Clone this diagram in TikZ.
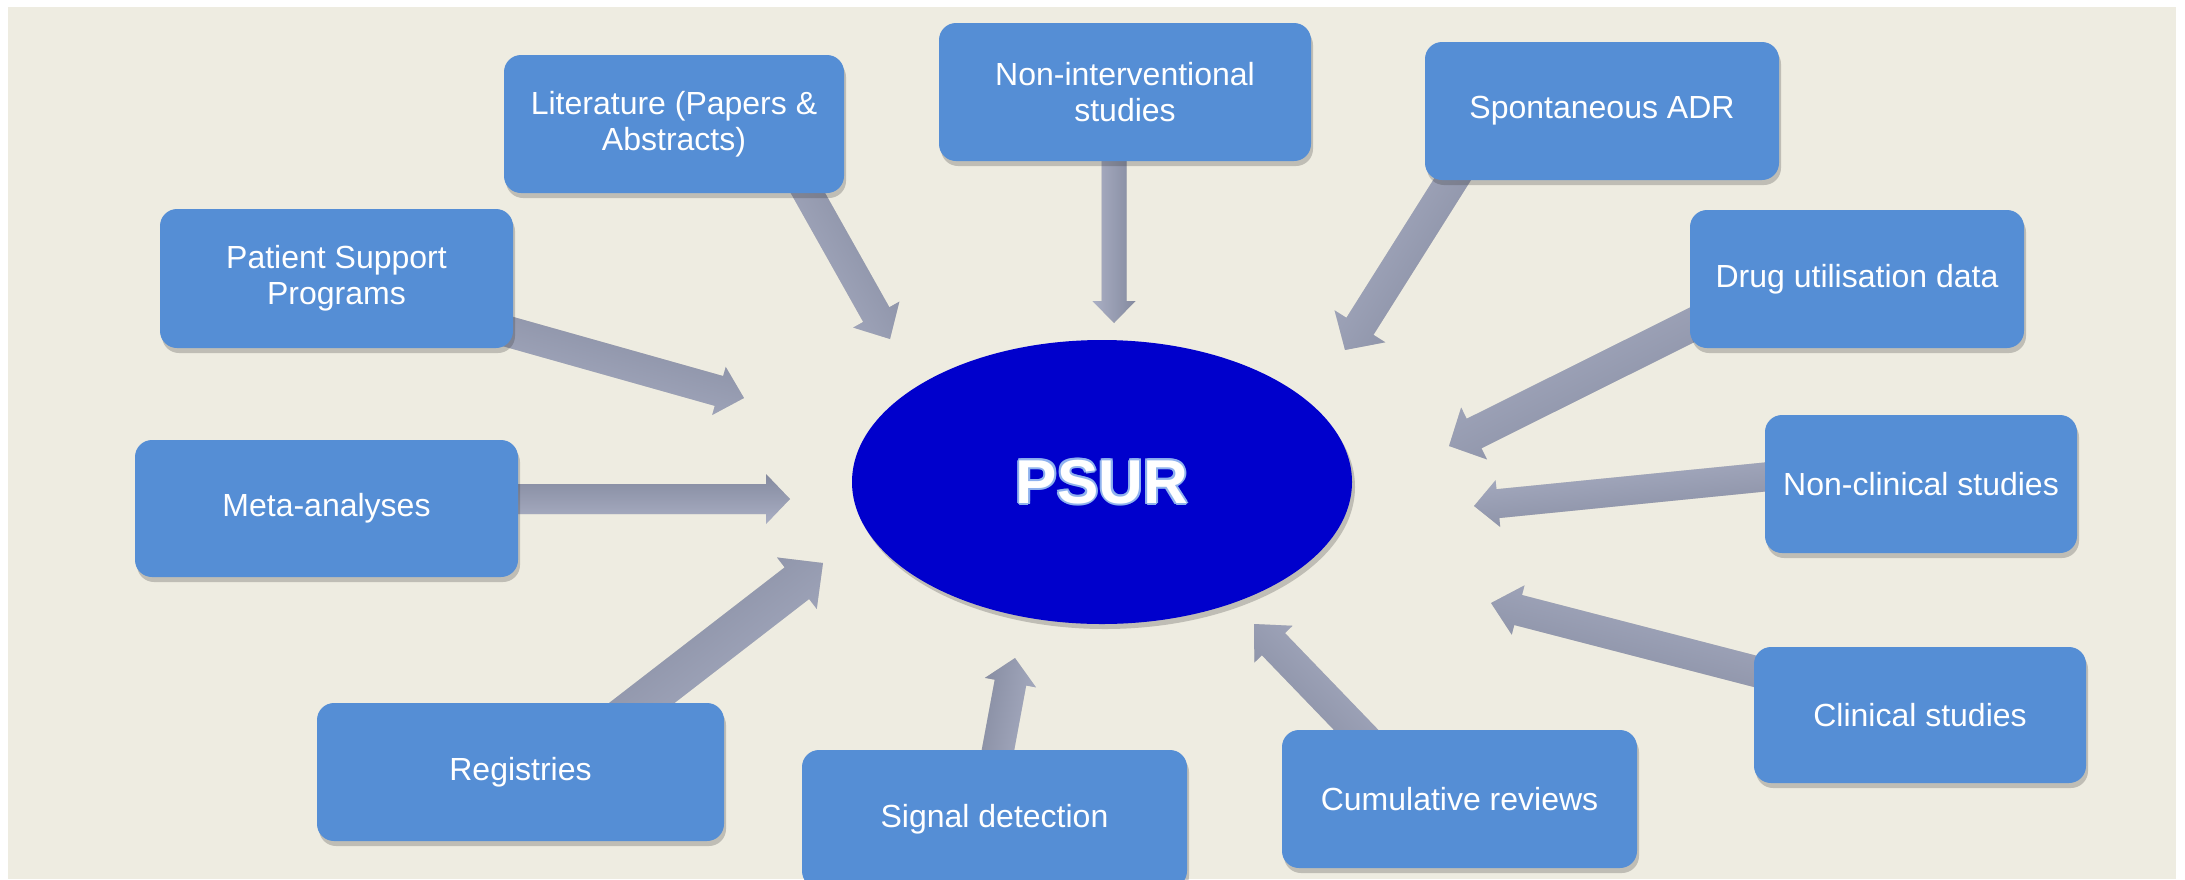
\documentclass[tikz,border=0pt]{standalone}
\usepackage{fontspec}
\setmainfont{Liberation Sans}
\usetikzlibrary{calc,shapes.geometric,shadows}
\definecolor{bgbeige}{HTML}{EEECE1}
\definecolor{boxblue}{HTML}{558ED5}
\definecolor{psurblue}{HTML}{0000CC}
\definecolor{arrdark}{HTML}{848A9F}
\definecolor{arrlight}{HTML}{AAAFC4}
\definecolor{glowblue}{HTML}{8FB2EE}
\pgfdeclarelayer{bglayer}
\pgfdeclarelayer{arrlayer}
\pgfsetlayers{bglayer,arrlayer,main}

% #1 start coordinate, #2 tip coordinate, #3 shaft width, #4 head width, #5 head length
\newcommand\blockarrow[5]{%
  \path let \p1=($(#2)-(#1)$) in \pgfextra{%
    \pgfmathsetmacro\tmpang{atan2(\y1,\x1)}%
    \pgfmathsetmacro\tmplen{veclen(\x1,\y1)}%
    \xdef\Arrang{\tmpang}\xdef\Arrlen{\tmplen}};
  \begin{scope}[xshift=3pt,yshift=-4pt]
    \begin{scope}[shift={(#1)},rotate=\Arrang]
      \fill[black,opacity=0.12] (-40,{-#3/2}) -- ({\Arrlen-#5},{-#3/2}) -- ({\Arrlen-#5},{-#4/2}) -- (\Arrlen,0) -- ({\Arrlen-#5},{#4/2}) -- ({\Arrlen-#5},{#3/2}) -- (-40,{#3/2}) -- cycle;
    \end{scope}
  \end{scope}
  \begin{scope}[shift={(#1)},rotate=\Arrang]
    \shade[top color=arrdark,bottom color=arrlight,shading angle=\Arrang] (-40,{-#3/2}) -- ({\Arrlen-#5},{-#3/2}) -- ({\Arrlen-#5},{-#4/2}) -- (\Arrlen,0) -- ({\Arrlen-#5},{#4/2}) -- ({\Arrlen-#5},{#3/2}) -- (-40,{#3/2}) -- cycle;
  \end{scope}
}

\tikzset{
  srcbox/.style={fill=boxblue, rounded corners=17pt, text=white, align=center,
    inner sep=0pt, minimum height=138pt,
    font=\fontsize{32}{36}\selectfont,
    drop shadow={shadow xshift=2pt, shadow yshift=-5pt, opacity=0.25, fill=black!80}},
  psurtext/.style={font=\bfseries\fontsize{62}{62}\selectfont, inner sep=0pt}
}

\begin{document}
\begin{tikzpicture}[x=1pt,y=-1pt]
\useasboundingbox (0,0) rectangle (2185,879);
\begin{pgfonlayer}{bglayer}
  \fill[white] (0,0) rectangle (2185,879);
  \fill[bgbeige] (8,7) rectangle (2176,879);
\end{pgfonlayer}

% central ellipse
\node[ellipse, fill=psurblue, minimum width=500pt, minimum height=284pt, inner sep=0pt,
  drop shadow={shadow xshift=3pt, shadow yshift=-5pt, opacity=0.25, fill=black!80}] (psur) at (1102,482) {};
\foreach \a in {0,45,...,315}
  \node[psurtext, text=glowblue] at ([shift={(\a:2pt)}]psur.center) {PSUR};
\node[psurtext, text=white] (psurlabel) at (psur.center) {PSUR};

% source boxes
\node[srcbox, minimum width=353pt, minimum height=139pt] (psp) at (336.5,278.5) {Patient Support\\Programs};
\node[srcbox, minimum width=340pt] (lit) at (674,124) {Literature (Papers \&\\Abstracts)};
\node[srcbox, minimum width=372pt] (nonint) at (1125,92) {Non-interventional\\studies};
\node[srcbox, minimum width=354pt] (spont) at (1602,111) {Spontaneous ADR};
\node[srcbox, minimum width=334pt] (drug) at (1857,279) {Drug utilisation data};
\node[srcbox, minimum width=312pt] (noncl) at (1921,484) {Non-clinical studies};
\node[srcbox, minimum width=332pt, minimum height=136pt] (clin) at (1920,715) {Clinical studies};
\node[srcbox, minimum width=355pt] (cumul) at (1459.5,799) {Cumulative reviews};
\node[srcbox, minimum width=385pt] (signal) at (994.5,819) {Signal detection};
\node[srcbox, minimum width=407pt] (reg) at (520.5,772) {Registries};
\node[srcbox, minimum width=383pt, minimum height=137pt] (meta) at (326.5,508.5) {Meta-analyses};

% arrow start points on the boxes
\coordinate (psp-o) at ([yshift=-54.5pt]psp.east);
\coordinate (lit-o) at ([xshift=134pt]lit.south);
\coordinate (nonint-o) at ([xshift=-11pt]nonint.south);
\coordinate (spont-o) at ([xshift=-150pt]spont.south);
\coordinate (drug-o) at ([yshift=-47pt]drug.west);
\coordinate (noncl-o) at ([yshift=7pt]noncl.west);
\coordinate (clin-o) at ([yshift=44pt]clin.west);
\coordinate (cumul-o) at ([xshift=-103.5pt]cumul.north);
\coordinate (signal-o) at ([xshift=3.5pt]signal.north);
\coordinate (reg-o) at ([xshift=121.5pt]reg.north);
\coordinate (meta-o) at ([yshift=9.5pt]meta.east);

% arrow tips near the ellipse
\coordinate (psp-t) at (744,398);
\coordinate (lit-t) at (890,339);
\coordinate (nonint-t) at (1114,323);
\coordinate (spont-t) at (1345,350);
\coordinate (drug-t) at (1449,446);
\coordinate (noncl-t) at (1474,506);
\coordinate (clin-t) at (1491,603);
\coordinate (cumul-t) at (1254,624);
\coordinate (signal-t) at (1015,658);
\coordinate (reg-t) at (823,563);
\coordinate (meta-t) at (790,499);

\begin{pgfonlayer}{arrlayer}
  \blockarrow{psp-o}{psp-t}{31}{50}{26}
  \blockarrow{lit-o}{lit-t}{30}{53}{28}
  \blockarrow{nonint-o}{nonint-t}{25}{43}{22}
  \blockarrow{spont-o}{spont-t}{32}{60}{28}
  \blockarrow{drug-o}{drug-t}{33}{58}{28}
  \blockarrow{noncl-o}{noncl-t}{29}{47}{24}
  \blockarrow{clin-o}{clin-t}{31}{51}{28}
  \blockarrow{cumul-o}{cumul-t}{32}{53}{28}
  \blockarrow{signal-o}{signal-t}{32}{52}{25}
  \blockarrow{reg-o}{reg-t}{40}{65}{33}
  \blockarrow{meta-o}{meta-t}{30}{50}{24}
\end{pgfonlayer}
\end{tikzpicture}
\end{document}
